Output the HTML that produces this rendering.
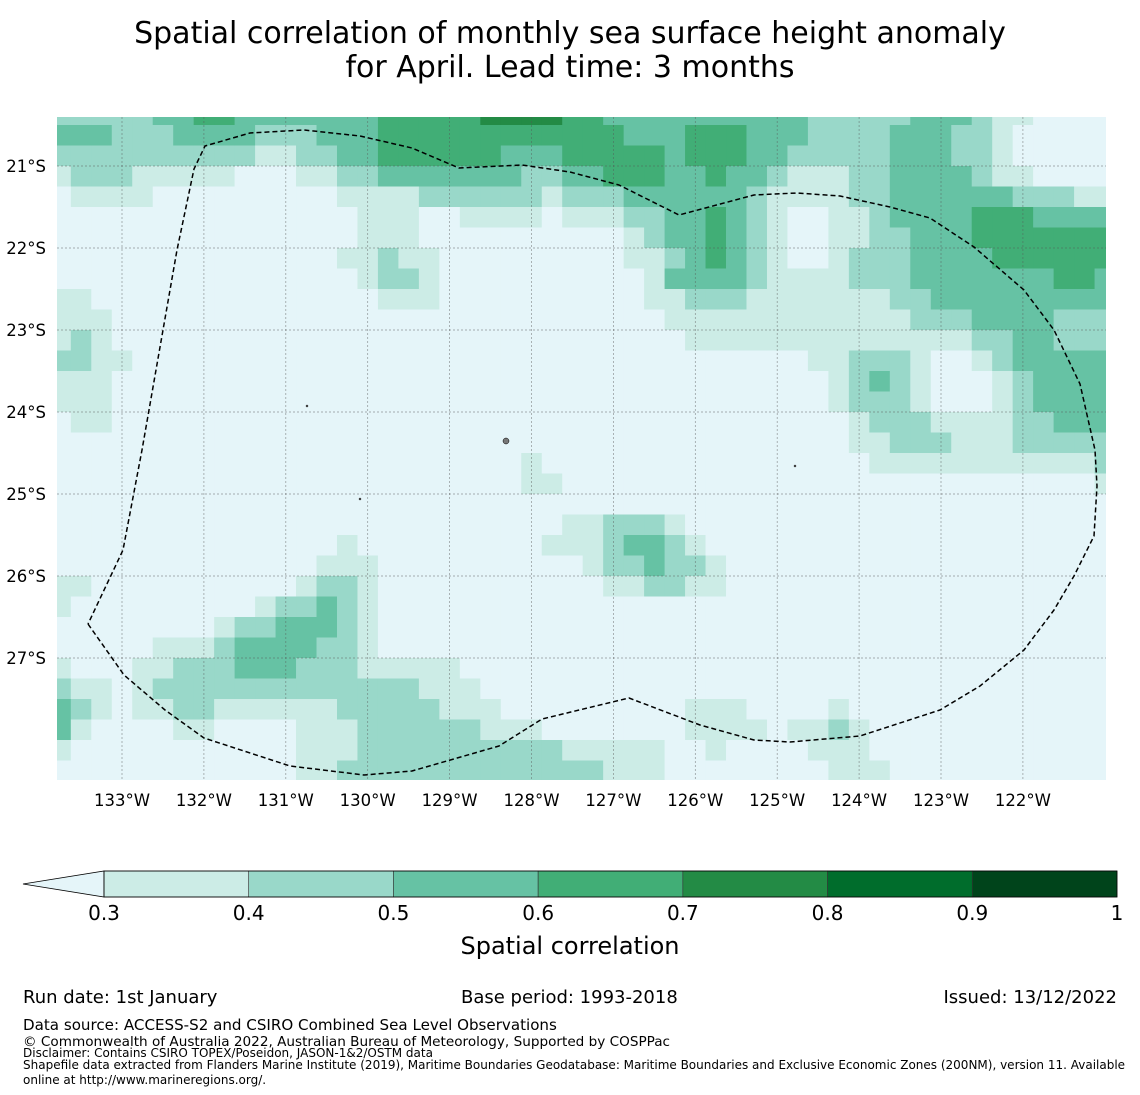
<!DOCTYPE html>
<html><head><meta charset="utf-8"><style>
body{margin:0;background:#fff;font-family:"DejaVu Sans",sans-serif;}
svg{display:block}
</style></head><body>
<svg id="chart" width="1140" height="1095" viewBox="0 0 1140 1095" xmlns="http://www.w3.org/2000/svg" font-family="DejaVu Sans, sans-serif">
<text x="570" y="43" font-size="30" text-anchor="middle">Spatial correlation of monthly sea surface height anomaly</text>
<text x="570" y="77" font-size="30" text-anchor="middle">for April. Lead time: 3 months</text>
<defs><clipPath id="mapclip"><rect x="57" y="117" width="1049" height="663"/></clipPath></defs>
<g id="cells" clip-path="url(#mapclip)"></g>
<g id="grid" clip-path="url(#mapclip)"></g>
<g id="eez" clip-path="url(#mapclip)"></g>
<g id="axes"></g>
<g id="cbar"></g>
<text x="570" y="954" font-size="24" text-anchor="middle">Spatial correlation</text>
<text x="23" y="1003" font-size="18">Run date: 1st January</text>
<text x="461" y="1003" font-size="18">Base period: 1993-2018</text>
<text x="1117" y="1003" font-size="18" text-anchor="end">Issued: 13/12/2022</text>
<text x="23" y="1030" font-size="15.1">Data source: ACCESS-S2 and CSIRO Combined Sea Level Observations</text>
<text x="23" y="1046" font-size="13.6">© Commonwealth of Australia 2022, Australian Bureau of Meteorology, Supported by COSPPac</text>
<text x="23" y="1057" font-size="12">Disclaimer: Contains CSIRO TOPEX/Poseidon, JASON-1&amp;2/OSTM data</text>
<text x="23" y="1069" font-size="12">Shapefile data extracted from Flanders Marine Institute (2019), Maritime Boundaries Geodatabase: Maritime Boundaries and Exclusive Economic Zones (200NM), version 11. Available</text>
<text x="23" y="1084" font-size="12">online at http://www.marineregions.org/.</text>
</svg>
<script>
// ---- data ----
const levels = [0.3,0.4,0.5,0.6,0.7,0.8,0.9,1.0];
const levelColors = ["#ccece6","#99d8c9","#66c2a4","#41ae76","#238b45","#006d2c","#00441b"];
const belowColor = "#e5f5f9";
const lonTicks = [133,132,131,130,129,128,127,126,125,124,123,122];
const lonTickLabels = ["133°W","132°W","131°W","130°W","129°W","128°W","127°W","126°W","125°W","124°W","123°W","122°W"];
const latTicks = [21,22,23,24,25,26,27];
const latTickLabels = ["21°S","22°S","23°S","24°S","25°S","26°S","27°S"];
const cbTickLabels = ["0.3","0.4","0.5","0.6","0.7","0.8","0.9","1"];
const lon0 = 133.75, lat0 = 20.25, res = 0.25;
const Z = n => "0".repeat(n);
// correlation class per cell (0 = below 0.3, 1 = 0.3-0.4, ...)
const corrRows = [
"22222"+"33"+"44"+"3333333"+"44444"+"5555"+"44"+"3333333333"+"22222"+"333"+"2"+"11"+"0000",
"333"+"222"+"3333"+"222"+"333"+"444444444444"+"333"+"444"+"333"+"2222"+"333"+"22"+"1"+"00000",
"2222222222"+"11"+"22"+"33"+"444444"+"333"+"44444"+"3"+"444"+"33"+"22222"+"333"+"22"+"1"+"00000",
"1"+"222"+"11111"+"000"+"11"+"22"+"3"+"333333"+"22"+"33"+"444"+"33"+"4"+"3"+"3"+"2"+"111"+"22"+"3333"+"2"+"11"+"0000",
"0"+"1111"+Z(9)+"111"+"1"+"222222"+"1"+"222"+"333333"+"2"+"1111"+"22"+"333333"+"222"+"11",
Z(15)+"11"+"1"+"00"+"1111"+"0"+"111"+"22"+"33"+"4"+"3"+"2"+"1"+"00"+"11"+"2"+"3333"+"444"+"3333",
Z(15)+"11"+"1"+Z(10)+"1"+"2"+"33"+"4"+"3"+"2"+"1"+"00"+"11"+"22"+"333"+"4444444",
Z(14)+"11"+"2"+"11"+Z(9)+"11"+"2"+"3"+"4"+"3"+"2"+"1"+"00"+"1"+"222"+"3333"+"444444",
Z(15)+"1"+"2"+"2"+"1"+Z(10)+"1"+"3333"+"2"+"1111"+"222"+"3333333"+"44"+"3",
"11"+Z(14)+"1"+"11"+Z(10)+"11"+"222"+"1111111"+"22"+"333333333",
"111"+Z(27)+"111111111111"+"222"+"3333"+"222",
"121"+Z(28)+"11111111111111"+"22"+"33"+"222",
"22"+"11"+Z(33)+"11"+"222"+"1"+"00"+"1"+"2"+"33333",
"111"+Z(35)+"1"+"2"+"3"+"2"+"1"+"000"+"1"+"2"+"3333",
"111"+Z(35)+"1"+"222"+"1"+"000"+"1"+"2"+"3333",
"0"+"11"+Z(36)+"1"+"222"+"1111"+"22"+"333",
Z(39)+"11"+"222"+"111"+"22222",
Z(23)+"1"+Z(16)+"11111111111"+"2",
Z(23)+"11"+Z(26)+"1",
Z(52),
Z(25)+"11"+"222"+"1"+Z(21),
Z(14)+"1"+Z(9)+"111"+"2"+"33"+"2"+"1"+Z(20),
Z(13)+"111"+Z(10)+"1"+"22"+"3"+"22"+"1"+Z(19),
"11"+Z(10)+"1"+"22"+"1"+Z(11)+"11"+"22"+"11"+Z(19),
"1"+Z(9)+"1"+"22"+"3"+"2"+"1"+Z(36),
Z(8)+"1"+"22"+"333"+"2"+"1"+Z(36),
Z(5)+"111"+"2"+"3333"+"22"+"1"+Z(36),
"1"+"000"+"11"+"222"+"333"+"222"+"11111"+Z(32),
"2"+"11"+"0"+"1"+"2222222222222"+"111"+Z(31),
"3"+"2"+"1"+"0"+"11"+"22"+"111111"+"22222"+"111"+Z(9)+"111"+Z(4)+"1"+Z(13),
"3"+"1"+"0000"+"11"+"0000"+"111"+"222222"+"111"+Z(7)+"1111"+"0"+"11"+"2"+"1"+Z(12),
"1"+Z(11)+"111"+"2222222222"+"11111"+"00"+"1"+"0000"+"111"+Z(12),
Z(12)+"11"+"2222222222222"+"111"+Z(8)+"111"+Z(11)
];
const eezLon = [133.415,132.976,132.475,131.999,130.949,130.045,129.459,128.397,127.872,126.810,125.943,125.283,124.844,123.989,123.012,122.524,121.987,121.620,121.376,121.132,121.095,121.120,121.303,121.620,121.987,122.597,123.134,123.623,124.233,124.758,125.283,126.199,126.932,127.530,128.116,128.885,129.459,130.094,130.778,131.437,131.987,132.121,132.328,132.756,132.988,133.415];
const eezLat = [26.585,27.207,27.634,27.976,28.317,28.427,28.378,28.073,27.744,27.488,27.817,28.000,28.024,27.951,27.634,27.341,26.902,26.415,26.000,25.512,24.902,24.463,23.659,23.000,22.512,21.988,21.634,21.500,21.366,21.329,21.354,21.598,21.232,21.073,20.988,21.024,20.780,20.634,20.561,20.598,20.756,21.037,22.024,24.463,25.683,26.585];

// ---- scales ----
const xOf = lonW => 122 + (133 - lonW) * 81.9;
const yOf = latS => 166 + (latS - 21) * 82;
const NS = "http://www.w3.org/2000/svg";
function mk(tag, attrs, parent){const e=document.createElementNS(NS,tag);for(const k in attrs)e.setAttribute(k,attrs[k]);parent.appendChild(e);return e;}

const cellsG = document.getElementById('cells');
corrRows.forEach((row, r) => {
  for (let c = 0; c < row.length; c++) {
    const v = +row[c];
    const lonL = lon0 - c*res + res/2, latT = lat0 + r*res;
    const x1 = xOf(lonL), x2 = xOf(lonL - res), y1 = yOf(latT), y2 = yOf(latT + res);
    const rect = mk('rect', {x:x1, y:y1, width:x2-x1+0.6, height:y2-y1+0.6, fill: v===0?belowColor:levelColors[v-1]}, cellsG);
    
    
  }
});

const gridG = document.getElementById('grid');
lonTicks.forEach(l => { const ln = mk('line', {x1:xOf(l), x2:xOf(l), y1:117, y2:780, stroke:'#555', 'stroke-width':0.7, 'stroke-dasharray':'2,2', 'stroke-opacity':0.6}, gridG);
  
   });
latTicks.forEach(l => { const ln = mk('line', {x1:57, x2:1106, y1:yOf(l), y2:yOf(l), stroke:'#555', 'stroke-width':0.7, 'stroke-dasharray':'2,2', 'stroke-opacity':0.6}, gridG);
  
   });

const eezG = document.getElementById('eez');
const pts = eezLon.map((l,i) => xOf(l).toFixed(1)+','+yOf(eezLat[i]).toFixed(1)).join(' ');
const poly = mk('polyline', {points:pts, fill:'none', stroke:'#000', 'stroke-width':1.5, 'stroke-dasharray':'5,3', 'stroke-linejoin':'round'}, eezG);


[[307,406,1],[506,441,3],[360,499,1],[795,466,1]].forEach(p => {
  const isl = mk('circle', {cx:p[0], cy:p[1], r:p[2], fill:'#777', stroke:'#000', 'stroke-width':0.5}, eezG);
  
  
});

const axG = document.getElementById('axes');
lonTicks.forEach((l,i) => { const t = mk('text', {x:xOf(l), y:806, 'font-size':16.5, 'text-anchor':'middle'}, axG); t.textContent = lonTickLabels[i];
  
   });
latTicks.forEach((l,i) => { const t = mk('text', {x:46, y:yOf(l)+6, 'font-size':16.5, 'text-anchor':'end'}, axG); t.textContent = latTickLabels[i];
  
   });

const cbG = document.getElementById('cbar');
const cbX0 = 104, cbX1 = 1117, cbY = 871, cbH = 26;
const cbx = v => cbX0 + (v - levels[0]) / (levels[levels.length-1] - levels[0]) * (cbX1 - cbX0);
const tri = mk('polygon', {points:`23,${cbY+cbH/2} ${cbX0},${cbY} ${cbX0},${cbY+cbH}`, fill:belowColor, stroke:'#000', 'stroke-width':0.8}, cbG);


for (let i = 0; i < levelColors.length; i++) {
  const s = mk('rect', {x:cbx(levels[i]), y:cbY, width:cbx(levels[i+1])-cbx(levels[i]), height:cbH, fill:levelColors[i], stroke:'#333', 'stroke-width':0.6}, cbG);
  
  
}
mk('rect', {x:cbX0, y:cbY, width:cbX1-cbX0, height:cbH, fill:'none', stroke:'#000', 'stroke-width':0.8}, cbG);
levels.forEach((v,i) => { const t = mk('text', {x:cbx(v), y:920, 'font-size':20, 'text-anchor':'middle'}, cbG); t.textContent = cbTickLabels[i];
  
   });
</script>
</body></html>
